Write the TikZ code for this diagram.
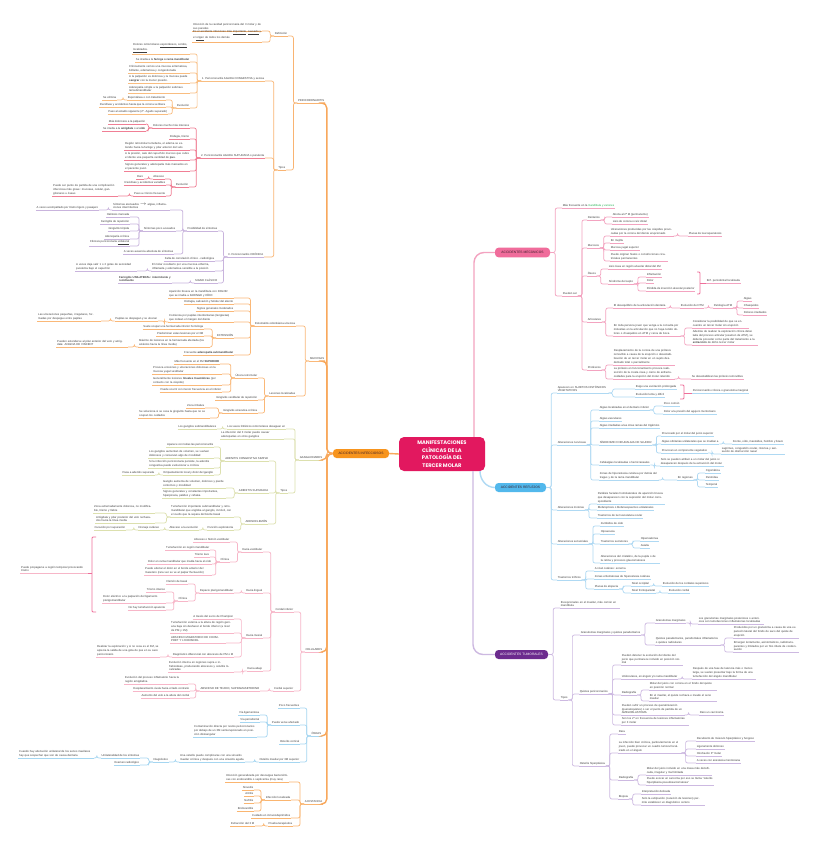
\documentclass[tikz,border=0pt]{standalone}
\usepackage{fontspec}
\newfontfamily\mapfont{Liberation Sans}
\newfontfamily\ttlfont{Poppins}
\usepackage{tikz}
\usetikzlibrary{arrows.meta}
\definecolor{txt}{HTML}{3D3D3D}
\definecolor{pilltxt}{HTML}{3A1E2A}
\definecolor{titleP}{HTML}{E2185F}
\definecolor{infP}{HTML}{F7941D}
\definecolor{infL}{HTML}{F8A85C}
\definecolor{mecP}{HTML}{F06C9B}
\definecolor{mecL}{HTML}{F3A3C0}
\definecolor{refP}{HTML}{52B8EC}
\definecolor{refL}{HTML}{AFD9F3}
\definecolor{tumP}{HTML}{6C2B8E}
\definecolor{tumL}{HTML}{CDB9E1}
\definecolor{periL}{HTML}{F9B472}
\definecolor{g1L}{HTML}{F9BD80}
\definecolor{g2L}{HTML}{F07F95}
\definecolor{g3L}{HTML}{C9B4DD}
\definecolor{mucL}{HTML}{FAB878}
\definecolor{ganL}{HTML}{DCE0AE}
\definecolor{celL}{HTML}{F7B6C8}
\definecolor{oseL}{HTML}{A5D6F1}
\definecolor{disL}{HTML}{FAB570}
\definecolor{brkP}{HTML}{EE6F9A}
\definecolor{hlg}{HTML}{22B050}
\colorlet{br}{black}
\newcommand\mapsize{\mapfont\fontsize{2.8}{3.8}\selectfont}
\tikzset{
  lnode/.style={font=\mapsize, text=txt, anchor=south east, inner xsep=.6pt, inner ysep=.9pt, align=left,
    append after command={(\tikzlastnode.south west) edge[ul] (\tikzlastnode.south east)}},
  rnode/.style={lnode, anchor=south west},
  ul/.style={draw=br, line width=.7pt},
  cn/.style={draw=br, line width=.7pt, rounded corners=2pt},
  brk/.style={draw=brkP, line width=.9pt, rounded corners=1pt},
  trunk/.style={line width=1.4pt, rounded corners=5pt},
  pill/.style={rounded corners=3.5pt, minimum height=7.5pt, inner xsep=2pt, font=\mapfont\fontsize{3.3}{4}\selectfont, text=pilltxt},
  ttlbox/.style={fill=titleP, rounded corners=5pt, minimum width=86pt, minimum height=34pt, align=center, text=white,
    font=\ttlfont\bfseries\fontsize{5.2}{7.6}\selectfont}
}
\newcommand\lk[2]{\draw[cn] (#1.south west) -- ++(-4pt,0) |- (#2.south east);}
\newcommand\rk[2]{\draw[cn] (#1.south east) -- ++(4pt,0) |- (#2.south west);}
\newcommand\lks[2]{\foreach \kid in {#2}{\lk{#1}{\kid}}}
\newcommand\rks[2]{\foreach \kid in {#2}{\rk{#1}{\kid}}}
\begin{document}
\begin{tikzpicture}[x=1pt,y=-1pt]
\fill[white] (0,0) rectangle (819,848);
\path[use as bounding box] (0,0) rectangle (819,848);

% centre and main branches
\node[ttlbox] (ttl) at (442,454) {MANIFESTACIONES\\CLÍNICAS DE LA\\PATOLOGÍA DEL\\TERCER MOLAR};
\node[pill, fill=infP, minimum width=56pt] (inf) at (361,453.5) {ACCIDENTES INFECCIOSOS};
\node[pill, fill=mecP, minimum width=55pt] (mec) at (522.5,252.5) {ACCIDENTES MECÁNICOS};
\node[pill, fill=refP, minimum width=51pt] (ref) at (520.5,487.5) {ACCIDENTES REFLEJOS};
\node[pill, fill=tumP, minimum width=53pt, text=white] (tum) at (521.5,654.5) {ACCIDENTES TUMORALES};
\draw[trunk, draw=infL] (ttl.west) -- (inf.east);
\draw[trunk, draw=mecL, rounded corners=10pt] ([xshift=32pt]ttl.north) |- (mec.west);
\draw[trunk, draw=refL] ([xshift=38pt]ttl.south) to[out=-90,in=180] (ref.west);
\draw[trunk, draw=tumL, rounded corners=10pt] ([xshift=31pt]ttl.south) |- (tum.west);

% pericoronaritis
\begin{scope}
\colorlet{br}{periL}
\node[lnode] (peri) at (325,103) {PERICORONARITIS};
\node[lnode] (def) at (288,36) {Definición};
\node[lnode,text width=68pt] (def1) at (262,31) {Infección de la cavidad pericoronaria del 3 molar y de sus paredes};
\node[lnode,text width=68pt] (def2) at (262,42) {Es el accidente infeccioso más \underline{importante}, \underline{causado} y el \underline{origen} de todos los demás};
\node[lnode] (tip) at (286,170) {Tipos};
\lks{peri}{def,tip}
\lks{def}{def1,def2}
\end{scope}

\begin{scope}
\colorlet{br}{g1L}
\node[lnode] (t1) at (265,81) {1. Pericoronaritis AGUDA CONGESTIVA y serosa};
\node[lnode,text width=56pt] (a1) at (190,54) {Dolores retromolares \underline{espontáneos, sordos,} \underline{localizados}.};
\node[lnode] (a2) at (190,62) {Se irradia a la \textbf{faringe o rama mandibular}};
\node[lnode,text width=60pt] (a3) at (190,73) {Clínicamente vemos una mucosa eritematosa, brillante, edematosa y congestionada};
\node[lnode,text width=60pt] (a4) at (190,83) {A la palpación es dolorosa y la mucosa puede \textbf{sangrar} con la menor presión.};
\node[lnode,text width=60pt] (a5) at (190,93) {Adenopatía simple a la palpación submaxilar/submandibular};
\node[lnode] (a6) at (190,108) {Evolución};
\node[lnode] (a61) at (166,100) {Espontánea o con tratamiento};
\node[lnode] (a611) at (117,100) {Se elimina};
\node[lnode] (a62) at (166,107) {Recidivas y accidentes hasta que la corona se libera};
\node[lnode] (a63) at (168,114) {Paso al estadio siguiente (2º. Agudo supurado)};
\lks{t1}{a1,a2,a3,a4,a5,a6}
\lks{a6}{a61,a62,a63}
\lk{a61}{a611}
\end{scope}

\begin{scope}
\colorlet{br}{g2L}
\node[lnode] (t2) at (265,158) {2. Pericoronaritis AGUDA SUPURADA o purulenta};
\node[lnode] (b1) at (190,128) {Dolores mucho más intensos};
\node[lnode] (b11) at (146,124) {Más dolorosos a la palpación};
\node[lnode] (b12) at (146,131) {Se irradia a la \textbf{amígdala} o al \textbf{oído}};
\node[lnode] (b2) at (190,139) {Disfagia, trismo};
\node[lnode,text width=64pt] (b3) at (190,150) {Región retromolar tumefacta, el edema se extiende hacia la faringe y pilar anterior del velo};
\node[lnode,text width=64pt] (b4) at (190,160) {A la presión, sale del capuchón mucoso que cubre el diente una pequeña cantidad de \textbf{pus}.};
\node[lnode,text width=64pt] (b5) at (190,171) {Signos generales y adenopatía más marcados en el paciente joven};
\node[lnode] (b6) at (189,187) {Evolución};
\node[lnode] (b61) at (165,179) {Absceso};
\node[lnode] (b611) at (144,179) {Raro};
\node[lnode] (b62) at (166,185) {Recidivas y accidentes variables};
\node[lnode] (b63) at (166,196) {Paso a crónico frecuente};
\node[lnode,text width=64pt] (b631) at (118,196) {Puede ser punto de partida de una complicación infecciosa más grave: mucosas, celular, ganglionares u óseas};
\lks{t2}{b1,b2,b3,b4,b5,b6}
\lks{b1}{b11,b12}
\lks{b6}{b61,b62,b63}
\lk{b61}{b611}
\lk{b63}{b631}
\end{scope}

\begin{scope}
\colorlet{br}{g3L}
\node[lnode] (t3) at (264,257) {3. Pericoronaritis CRÓNICA};
\node[lnode] (c1) at (218,231) {Posibilidad de síntomas};
\node[lnode,text width=56pt] (c11) at (170,210) {Síntomas atenuados $\to$ algias, inflamaciones intermitentes};
\node[lnode] (c111) at (99,210) {A veces acompañado por trismo ligero y pasajero};
\node[lnode] (c12) at (176,231) {Síntomas poco acusados};
\node[lnode] (c121) at (130,217) {Halitosis marcada};
\node[lnode] (c122) at (130,224) {Faringitis de repetición};
\node[lnode] (c123) at (130,231) {Gingivitis tórpida};
\node[lnode] (c124) at (130,239) {Adenopatía crónica};
\node[lnode] (c125) at (130,246) {Fibrosis pericoronaria \underline{unilateral}};
\node[lnode] (c13) at (174,254) {A veces ausencia absoluta de síntomas};
\node[lnode] (c2) at (215,261) {Falta de correlación clínico - radiológica};
\node[lnode,text width=62pt] (c3) at (215,271) {El molar recubierto por una mucosa enferma, inflamada y edematosa sensible a la presión};
\node[lnode,text width=60pt] (c31) at (137,271) {A veces deja salir 1 o 2 gotas de serosidad purulenta bajo el capuchón};
\node[lnode] (c4) at (218,283) {SIGNO CLÁSICO};
\node[lnode,text width=52pt] (c41) at (172,283) {\textbf{Faringitis UNILATERAL: intermitente y recidivante}};
\lks{t3}{c1,c2,c3,c4}
\lks{c1}{c11,c12,c13}
\lk{c11}{c111}
\lks{c12}{c121,c122,c123,c124,c125}
\lk{c3}{c31}
\lk{c4}{c41}
\end{scope}

\begin{scope}
\colorlet{br}{periL}
\lks{tip}{t1,t2,t3}
\end{scope}

% mucosas
\begin{scope}
\colorlet{br}{mucL}
\node[lnode] (muc) at (325,361) {MUCOSAS};
\node[lnode] (m1) at (296,326) {Estomatitis odontiásica ulcerosa};
\node[lnode,text width=64pt] (m11) at (234,298) {Aparición brusca en la mandíbula con DOLOR que se irradia a FARINGE y OÍDO};
\node[lnode] (m12) at (234,304) {Disfagia, salivación y fetidez del aliento};
\node[lnode] (m13) at (234,311) {Signos generales moderados};
\node[lnode,text width=64pt] (m14) at (234,322) {Comienza por papilas interdentarias (lengüetas) que rodean el margen del diente};
\node[lnode] (m141) at (158,321) {Papilas se despegan y se ulceran};
\node[lnode,text width=62pt] (m1411) at (101,321) {Las ulceraciones pequeñas, irregulares, formadas por despegue entre papilas};
\node[lnode] (m15) at (234,338) {EXTENSIÓN};
\node[lnode] (m151) at (204,329) {Suele ocupar una hemiarcada inferior homóloga};
\node[lnode] (m152) at (204,336) {Predominan estas lesiones por el 3M};
\node[lnode,text width=70pt] (m153) at (210,347) {Máximo de lesiones en la hemiarcada afectada (los alvéolos hacia la línea media)};
\node[lnode,text width=70pt] (m1531) at (128,347) {Pueden extenderse al pilar anterior del velo y amígdala: ANGINA DE VINCENT};
\node[lnode] (m16) at (234,355) {Frecuente \textbf{adenopatía submandibular}};
\node[lnode] (m2) at (296,396) {Lesiones localizadas};
\node[lnode] (m21) at (258,378) {Úlcera retromolar};
\node[lnode] (m211) at (220,364) {Más frecuente en el 3M \textbf{SUPERIOR}};
\node[lnode,text width=68pt] (m212) at (222,374) {Provoca erosiones y ulceraciones dolorosas en la mucosa yugal vestibular};
\node[lnode,text width=68pt] (m213) at (222,385) {Generalmente lesiones \textbf{lineales traumáticas} (por contacto con la cúspide)};
\node[lnode] (m214) at (222,392) {Puede ocurrir con menor frecuencia en el inferior};
\node[lnode] (m22) at (258,400) {Gingivitis vestibular de repetición};
\node[lnode] (m23) at (258,413) {Gingivitis ulcerativa crónica};
\node[lnode] (m231) at (205,408) {Zona irritativa};
\node[lnode,text width=70pt] (m232) at (210,418) {Se soluciona si se cesa la gingivitis hasta que no se ocupan los cuidados};
\lks{muc}{m1,m2}
\lks{m1}{m11,m12,m13,m14,m15,m16}
\lk{m14}{m141}
\lk{m141}{m1411}
\lks{m15}{m151,m152,m153}
\lk{m153}{m1531}
\lks{m2}{m21,m22,m23}
\lks{m21}{m211,m212,m213,m214}
\lks{m23}{m231,m232}
\end{scope}

% ganglionares
\begin{scope}
\colorlet{br}{ganL}
\node[lnode] (gan) at (323,460) {GANGLIONARES};
\node[lnode] (g1) at (286,429) {Los vasos linfáticos retromolares desaguan en};
\node[lnode] (g11) at (217,429) {Los ganglios submandibulares};
\node[lnode,text width=62pt] (g2) at (284,439) {La infección del 3 molar puede causar adenopatías en otros ganglios};
\node[lnode] (g3) at (288,493) {Tipos};
\node[lnode] (g31) at (269,461) {ADENITIS CONGESTIVA SIMPLE};
\node[lnode] (g311) at (214,447) {Aparece con todas las pericoronaritis};
\node[lnode,text width=64pt] (g312) at (214,458) {Los ganglios aumentan de volumen, se vuelven dolorosos y conservan algo de movilidad};
\node[lnode,text width=64pt] (g313) at (214,468) {Si la infección pericoronaria persiste, la adenitis congestiva puede evolucionar a crónica};
\node[lnode] (g314) at (214,475) {Empastamiento local y dolor del ganglio};
\node[lnode] (g3141) at (155,475) {Pasa a adenitis supurada};
\node[lnode] (g32) at (269,493) {ADENITIS SUPURADA};
\node[lnode,text width=62pt] (g321) at (226,488) {Ganglio aumenta de volumen, doloroso y pierde contornos y movilidad};
\node[lnode,text width=62pt] (g322) at (226,498) {Signos generales y constantes importantes, hiperpirexia, palidez y cefalea};
\node[lnode] (g33) at (268,524) {ADENOFLEMÓN};
\node[lnode,text width=62pt] (g331) at (234,517) {Tumefacción importante submandibular y retromandibular que engloba al ganglio, inmóvil, con el cuello que la separa del borde basal};
\node[lnode,text width=60pt] (g3311) at (155,513) {Zona extremadamente dolorosa, no modificable, trismo y fiebre};
\node[lnode,text width=58pt] (g3312) at (155,523) {Amígdala y pilar posterior del velo rechazados hacia la línea media};
\node[lnode] (g332) at (234,530) {Punción exploratoria};
\node[lnode] (g3321) at (199,530) {Absceso a la evolución};
\node[lnode] (g3322) at (160,530) {Drenaje cutáneo};
\node[lnode] (g3323) at (126,530) {Curación por supuración};
\lks{gan}{g1,g2,g3}
\lk{g1}{g11}
\lks{g3}{g31,g32,g33}
\lks{g31}{g311,g312,g313,g314}
\lk{g314}{g3141}
\lks{g32}{g321,g322}
\lks{g33}{g331,g332}
\lks{g331}{g3311,g3312}
\lk{g332}{g3321}
\lk{g3321}{g3322}
\lk{g3322}{g3323}
\end{scope}

% celulares
\begin{scope}
\colorlet{br}{celL}
\node[lnode] (cel) at (323,652) {CELULARES};
\node[lnode] (e1) at (294,612) {Cordal inferior};
\node[lnode] (e11) at (263,552) {Hacia vestibular};
\node[lnode] (e111) at (230,542) {Absceso o flemón vestibular};
\node[lnode] (e112) at (230,562) {Clínica};
\node[lnode] (e1121) at (210,550) {Tumefacción en región mandibular};
\node[lnode] (e1122) at (210,557) {Trismo leve};
\node[lnode] (e1123) at (212,564) {Dolor en rama mandibular que irradia hacia el oído};
\node[lnode,text width=66pt] (e1124) at (212,575) {Puede afectar el dolor en el borde anterior del masetero (rara vez se ve al palpar fluctuación)};
\node[lnode] (e12) at (263,593) {Hacia lingual};
\node[lnode] (e121) at (234,593) {Espacio pterigomandibular};
\node[lnode] (e1211) at (188,584) {Flemón de basal};
\node[lnode] (e1212) at (188,601) {Clínica};
\node[lnode] (e12121) at (166,592) {Trismo intenso};
\node[lnode,text width=62pt] (e12122) at (166,603) {Dolor eléctrico a la palpación del ligamento pterigomandibular};
\node[lnode] (e12123) at (166,610) {No hay tumefacción aparente};
\node[lnode] (e13) at (263,638) {Hacia mesial};
\node[lnode] (e131) at (234,619) {A través del surco de Champion};
\node[lnode,text width=62pt] (e132) at (234,633) {Tumefacción externa a la altura de región geniana baja sin deshacer el borde inferior (a nivel de PM y 1M)};
\node[lnode,text width=54pt] (e133) at (226,643) {ABSCESO MIGRATORIO DE CHOMPRET Y L'HIRONDEL};
\node[lnode] (e134) at (234,657) {Diagnóstico diferencial con abscesos de PM o M};
\node[lnode,text width=62pt] (e1341) at (160,657) {Realizar la exploración y si no cesa es el 3M, se aprecia la salida de una gota de pus en su saco pericoronario};
\node[lnode] (e14) at (263,671) {Hacia abajo};
\node[lnode,text width=64pt] (e141) at (234,672) {Evolución interna en regiones supra e infrahioideas, produciendo abscesos y celulitis localizadas};
\node[lnode] (e2) at (294,691) {Cordal superior};
\node[lnode] (e21) at (260,691) {ABSCESO DE TEJIDO, SUPRAMASETERINO};
\node[lnode,text width=62pt] (e211) at (188,684) {Evolución del proceso inflamatorio hacia la región amigdalina};
\node[lnode] (e212) at (190,691) {Desplazamiento úvula hacia el lado contrario};
\node[lnode] (e213) at (190,698) {Aumento del velo a la altura del cordal};
\node[lnode,text width=66pt] (e0) at (88,573) {Puede propagarse a región temporal provocando trismo};
\lks{cel}{e1,e2}
\lks{e1}{e11,e12,e13,e14}
\lks{e11}{e111,e112}
\lks{e112}{e1121,e1122,e1123,e1124}
\lk{e12}{e121}
\lks{e121}{e1211,e1212}
\lks{e1212}{e12121,e12122,e12123}
\lks{e13}{e131,e132,e133,e134}
\lk{e134}{e1341}
\lk{e14}{e141}
\lk{e2}{e21}
\lks{e21}{e211,e212,e213}
\coordinate (eb1) at (96,537);
\coordinate (eb2) at (96,612);
\draw[brk] (eb1) -- (92,537) -- (92,612) -- (eb2);
\draw[brk] (92,573) -- (e0.south east);
\end{scope}

% oseas
\begin{scope}
\colorlet{br}{oseL}
\node[lnode] (ose) at (322,736) {ÓSEAS};
\node[lnode] (o1) at (300,708) {Poco frecuentes};
\node[lnode] (o2) at (300,725) {Puede verse afectado};
\node[lnode] (o21) at (260,715) {Vía ligamentosa};
\node[lnode] (o22) at (260,722) {Vía periodontal};
\node[lnode,text width=62pt] (o23) at (257,737) {Contaminación directa por restos pericoronarios por debajo de un 3M semierupcionado en posición distoangular};
\node[lnode] (o3) at (300,744) {Osteítis cortical};
\node[lnode] (o4) at (300,762) {Osteítis maxilar por 3M superior};
\node[lnode,text width=64pt] (o41) at (245,762) {Una osteítis puede complicarse con una sinusitis maxilar crónica y después con una sinusitis aguda};
\node[lnode] (o411) at (169,762) {Diagnóstico};
\node[lnode] (o4111) at (140,758) {Unilateralidad de los síntomas};
\node[lnode,text width=74pt] (o41111) at (94,758) {Cuando hay afectación unilateral de los senos maxilares hay que sospechar que son de causa dentaria};
\node[lnode] (o4112) at (140,765) {Examen radiológico};
\lks{ose}{o1,o2,o3,o4}
\lks{o2}{o21,o22,o23}
\lk{o4}{o41}
\lk{o41}{o411}
\lks{o411}{o4111,o4112}
\lk{o4111}{o41111}
\end{scope}

% a distancia
\begin{scope}
\colorlet{br}{disL}
\node[lnode] (dis) at (323,804) {A DISTANCIA};
\node[lnode,text width=62pt] (d1) at (289,782) {Infección generalizada por descargas bacteriémicas con endocarditis o septicemia (muy rara)};
\node[lnode] (d2) at (291,800) {Infección localizada};
\node[lnode] (d21) at (254,790) {Sinusitis};
\node[lnode] (d22) at (254,796) {Artritis};
\node[lnode] (d23) at (254,803) {Nefritis};
\node[lnode] (d24) at (254,811) {Endocarditis};
\node[lnode] (d3) at (291,818) {Cuidado en inmunodeprimidos};
\node[lnode] (d4) at (293,826) {Prueba terapéutica};
\node[lnode] (d41) at (255,826) {Extracción del 3 M};
\lks{dis}{d1,d2,d3,d4}
\lks{d2}{d21,d22,d23,d24}
\lk{d4}{d41}
\end{scope}

\foreach \cat in {peri,muc,gan,cel,ose,dis}
  \draw[trunk, draw=infL] (inf.west) -- ++(-6pt,0) |- (\cat.south east);

% mecanicos
\begin{scope}
\colorlet{br}{mecL}
\node[rnode] (k1) at (562,208) {Más frecuente en la \textcolor{hlg}{mandíbula y varones}};
\node[rnode] (k2) at (562,296) {Pueden ser};
\node[rnode] (k21) at (587,220) {Dentarios};
\node[rnode] (k211) at (612,217) {Afecta al 2º M (permanente)};
\node[rnode] (k212) at (612,224) {Lisis de corona o raíz distal};
\node[rnode] (k22) at (587,248) {Mucosos};
\node[rnode,text width=62pt] (k221) at (610,236) {Ulceraciones producidas por las cúspides provocadas por la corona del diente erupcionado};
\node[rnode] (k2211) at (688,236) {Placas de leucoqueratosis};
\node[rnode] (k222) at (610,243) {En mejilla};
\node[rnode] (k223) at (610,250) {Mucosa yugal superior};
\node[rnode,text width=56pt] (k224) at (610,261) {Puede originar hiatos o constricciones cicatriciales permanentes};
\node[rnode] (k23) at (587,276) {Óseos};
\node[rnode] (k231) at (608,269) {Lisis ósea en región alveolar distal del 2M};
\node[rnode] (k232) at (608,284) {Síndrome del septo};
\node[rnode] (k2321) at (646,277) {Inflamación};
\node[rnode] (k2322) at (646,283) {Dolor};
\node[rnode] (k2323) at (646,291) {Pérdida de inserción alveolar posterior};
\node[rnode] (k23b) at (706,283) {Enf. periodontal localizada};
\node[rnode] (k24) at (587,322) {Articulares};
\node[rnode] (k241) at (613,308) {El desequilibrio de la articulación dentaria};
\node[rnode] (k2411) at (680,308) {Evolución de DTM};
\node[rnode] (k2412) at (713,308) {Patología ATM};
\node[rnode] (k24121) at (743,301) {Algias};
\node[rnode] (k24122) at (743,308) {Chasquidos};
\node[rnode] (k24123) at (743,315) {Dolores irradiados};
\node[rnode,text width=66pt] (k242) at (613,336) {En toda persona joven que venga a la consulta por molestias en la articulación que no haya tenido dolores o chasquidos en ATM y cerca de boca};
\node[rnode,text width=55pt] (k2421) at (692,328) {Considerar la posibilidad de que se encuentre un tercer molar sin erupción};
\node[rnode,text width=64pt] (k2422) at (692,345) {Además de realizar la exploración clínica detallada del proceso articular (examen de ATM), se debería proceder como parte del tratamiento a la \textbf{extracción} de dicho tercer molar};
\node[rnode] (k25) at (587,370) {Protésicos};
\node[rnode,text width=60pt] (k251) at (613,365) {Desplazamiento de la corona de una prótesis removible a causa de la erupción o desestabilización de un tercer molar en un sujeto desdentado total o parcialmente};
\node[rnode,text width=60pt] (k252) at (613,379) {La prótesis en funcionamiento provoca reabsorción de la cresta ósea y cierre de anfractuosidades para la erupción del molar retenido};
\node[rnode] (k2521) at (691,379) {Se desestabilizan las prótesis removibles};
\draw[cn] (mec.east) -- ++(5pt,0) |- (k1.south west);
\draw[cn] (mec.east) -- ++(5pt,0) |- (k2.south west);
\rks{k2}{k21,k22,k23,k24,k25}
\rks{k21}{k211,k212}
\rks{k22}{k221,k222,k223,k224}
\rk{k221}{k2211}
\rks{k23}{k231,k232}
\rks{k232}{k2321,k2322,k2323}
\rks{k24}{k241,k242}
\rk{k241}{k2411}
\rk{k2411}{k2412}
\rks{k2412}{k24121,k24122,k24123}
\rks{k242}{k2421,k2422}
\rks{k25}{k251,k252}
\rk{k252}{k2521}
\draw[brk] (697,272) -- (700,272) -- (700,294) -- (697,294);
\draw[brk] (700,283) -- (k23b.south west);
\end{scope}

% reflejos
\begin{scope}
\colorlet{br}{refL}
\node[rnode,text width=50pt] (r1) at (557,393) {Aparecen en SUJETOS DISTÓNICOS VEGETATIVOS};
\node[rnode] (r11) at (635,389) {Exige una excitación prolongada};
\node[rnode] (r12) at (635,397) {Evolución lenta y difícil};
\node[rnode] (r1b) at (692,393) {Pericoronaritis crónica o granuloma marginal};
\node[rnode] (r2) at (557,445) {Alteraciones nerviosas};
\node[rnode] (r21) at (599,410) {Algias localizadas en el dentario inferior};
\node[rnode] (r211) at (663,406) {Poco común};
\node[rnode] (r212) at (663,414) {Dolor a la presión del agujero mentoniano};
\node[rnode] (r22) at (599,421) {Algias vasculares};
\node[rnode] (r23) at (599,428) {Algias irradiadas a las otras ramas del trigémino};
\node[rnode] (r24) at (599,445) {SÍNDROME O NEURALGIA DE SLUDER};
\node[rnode] (r241) at (661,436) {Provocado por el molar del juicio superior};
\node[rnode] (r242) at (661,444) {Algias orbitarias unilaterales que se irradian a};
\node[rnode] (r2421) at (732,444) {Frente, oído, mastoides, hombro y brazo};
\node[rnode] (r243) at (661,453) {Provocan un componente vegetativo};
\node[rnode,text width=62pt] (r2431) at (721,454) {Lagrimeo, congestión ocular, rinorrea y sensación de obstrucción nasal};
\node[rnode] (r25) at (599,465) {Cefalalgias localizadas o hemicraneales};
\node[rnode,text width=62pt] (r251) at (660,466) {Solo se pueden atribuir a un molar del juicio si desaparecen después de la extracción del molar};
\node[rnode,text width=58pt] (r26) at (599,480) {Zonas de hiperestesia cutánea por detrás del tragus y de la rama mandibular};
\node[rnode] (r261) at (677,480) {En regiones};
\node[rnode] (r2611) at (705,473) {Cigomática};
\node[rnode] (r2612) at (705,480) {Parotídea};
\node[rnode] (r2613) at (705,487) {Temporal};
\node[rnode] (r3) at (557,510) {Alteraciones motoras};
\node[rnode,text width=66pt] (r31) at (597,504) {Parálisis faciales homolaterales de aparición brusca que desaparecen con la supresión del molar correspondiente};
\node[rnode] (r32) at (597,510) {Blefaroptosis o blefaroespasmos unilaterales};
\node[rnode] (r33) at (597,518) {Trastornos de la musculatura ocular};
\node[rnode] (r4) at (557,544) {Alteraciones sensoriales};
\node[rnode] (r41) at (600,526) {Zumbidos de oído};
\node[rnode] (r42) at (600,534) {Hipoacusia};
\node[rnode] (r43) at (600,544) {Trastornos secretores};
\node[rnode] (r431) at (640,541) {Hipersialorrea};
\node[rnode] (r432) at (640,548) {Asialia};
\node[rnode,text width=58pt] (r44) at (600,563) {Alteraciones del cristalino, de la pupila o de la retina y procesos glaucomatosos};
\node[rnode] (r5) at (557,580) {Trastornos tróficos};
\node[rnode] (r51) at (594,571) {A nivel cutáneo: eczema};
\node[rnode] (r52) at (594,579) {Zonas eritematosas de hiperestesia cutánea};
\node[rnode] (r53) at (594,589) {Placas de alopecia};
\node[rnode] (r531) at (631,586) {Nivel occipital};
\node[rnode] (r5311) at (662,586) {Evolución de los cordales superiores};
\node[rnode] (r532) at (631,593) {Nivel frontoparietal};
\node[rnode] (r5321) at (668,593) {Evolución cordal};
\foreach \kid in {r1,r2,r3,r4,r5}
  \draw[cn] (ref.east) -- ++(5pt,0) |- (\kid.south west);
\rks{r1}{r11,r12}
\rks{r2}{r21,r22,r23,r24,r25,r26}
\rks{r21}{r211,r212}
\rks{r24}{r241,r242,r243}
\rk{r242}{r2421}
\rk{r243}{r2431}
\rk{r25}{r251}
\rk{r26}{r261}
\rks{r261}{r2611,r2612,r2613}
\rks{r3}{r31,r32,r33}
\rks{r4}{r41,r42,r43,r44}
\rks{r43}{r431,r432}
\rks{r5}{r51,r52,r53}
\rks{r53}{r531,r532}
\rk{r531}{r5311}
\rk{r532}{r5321}
\draw[brk] (680,385) -- (684,385) -- (684,399) -- (680,399);
\draw[brk] (684,393) -- (r1b.south west);
\end{scope}

% tumorales
\begin{scope}
\colorlet{br}{tumL}
\node[rnode,text width=58pt] (q1) at (560,608) {Excepcionales en el maxilar, más común en mandíbula};
\node[rnode] (q2) at (560,700) {Tipos};
\node[rnode] (q21) at (580,635) {Granulomas marginales y quistes paradentarios};
\node[rnode] (q211) at (655,623) {Granulomas marginales};
\node[rnode,text width=64pt] (q2111) at (698,624) {Los granulomas marginales posteriores o anteriores son tumefacciones inflamatorias localizadas};
\node[rnode,text width=64pt] (q212) at (655,645) {Quistes paradentarios, parodontales inflamatorios o quistes radiculares};
\node[rnode,text width=64pt] (q2121) at (733,638) {Producidos por un granuloma a causa de una expansión lateral del fondo de saco del quiste de erupción};
\node[rnode,text width=64pt] (q2122) at (733,652) {Emergen lentamente, asintomáticos, radiotransparentes y limitados por un fino ribete de condensación};
\node[rnode] (q22) at (579,694) {Quistes pericoronarios};
\node[rnode,text width=60pt] (q221) at (621,665) {Pueden detener la evolución del diente del juicio que permanece incluido en posición normal};
\node[rnode] (q222) at (621,679) {Uniloculares, en ángulo y/o rama mandibular};
\node[rnode,text width=62pt] (q2221) at (692,679) {Después de una fase de latencia más o menos larga, se suelen presentar bajo la forma de una tumefacción del ángulo mandibular};
\node[rnode] (q223) at (621,695) {Radiografía};
\node[rnode,text width=66pt] (q2231) at (649,690) {Molar del juicio con corona en el fondo del quiste en posición normal};
\node[rnode,text width=66pt] (q2232) at (649,701) {En el maxilar, el quiste rechaza e invade el seno maxilar};
\node[rnode,text width=62pt] (q224) at (621,715) {Pueden sufrir un proceso de queratinización (queratoquistes) o ser el punto de partida de un AMELOBLASTOMA};
\node[rnode] (q2241) at (699,715) {Raro un carcinoma};
\node[rnode,text width=66pt] (q225) at (621,725) {Son los 2º en frecuencia de lesiones inflamatorias por 3 molar};
\node[rnode] (q23) at (579,766) {Osteítis hiperplásica};
\node[rnode] (q231) at (618,734) {Rara};
\node[rnode,text width=62pt] (q232) at (618,753) {La infección bien crónica, particularmente en el joven, puede provocar un cuadro tumoral localizado en el ángulo};
\node[rnode] (q2321) at (696,741) {Recubierto de músculo hiperplásico y fungoso};
\node[rnode] (q2322) at (696,749) {Ligeramente doloroso};
\node[rnode] (q2323) at (696,756) {Hinchazón 3º molar};
\node[rnode] (q2324) at (696,763) {A veces con anestesia mentoniana};
\node[rnode] (q233) at (618,780) {Radiografía};
\node[rnode,text width=64pt] (q2331) at (646,775) {Molar del juicio incluido en una masa más densificada, irregular y mal limitada};
\node[rnode,text width=66pt] (q2332) at (646,785) {Puede evocar un sarcoma por eso se llama “osteítis hiperplásica pseudosarcomatosa”};
\node[rnode] (q234) at (618,799) {Biopsia};
\node[rnode] (q2341) at (641,794) {Interpretación delicada};
\node[rnode,text width=62pt] (q2342) at (641,805) {Solo la extirpación (curación de lesiones) permite establecer un diagnóstico certero};
\draw[cn] (tum.east) -- ++(5pt,0) |- (q1.south west);
\draw[cn] (tum.east) -- ++(5pt,0) |- (q2.south west);
\rks{q2}{q21,q22,q23}
\rks{q21}{q211,q212}
\rk{q211}{q2111}
\rks{q212}{q2121,q2122}
\rks{q22}{q221,q222,q223,q224,q225}
\rk{q222}{q2221}
\rks{q223}{q2231,q2232}
\rk{q224}{q2241}
\rks{q23}{q231,q232,q233,q234}
\rks{q232}{q2321,q2322,q2323,q2324}
\rks{q233}{q2331,q2332}
\rks{q234}{q2341,q2342}
\end{scope}
\end{tikzpicture}
\end{document}
